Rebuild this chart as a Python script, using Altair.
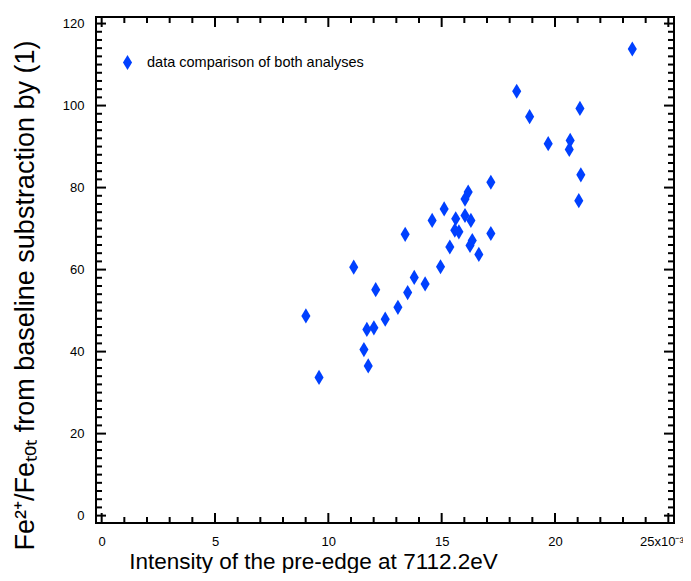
import altair as alt
import pandas as pd

# Intensity of the pre-edge (x10^-3) and Fe2+/Fetot (%)
intensity = [23.41, 18.31, 18.88, 21.10, 19.70, 20.67, 20.63, 21.14, 21.05, 17.17,
             16.17, 16.03, 15.11, 14.58, 15.62, 16.03, 16.29, 13.39, 15.58, 15.76,
             17.17, 15.36, 16.35, 16.25, 16.64, 11.12, 14.95, 13.79, 14.27, 12.09,
             13.50, 13.07, 12.51, 9.01, 11.70, 12.01, 11.57, 11.76, 9.59]
fe_ratio = [113.8, 103.5, 97.3, 99.3, 90.7, 91.5, 89.3, 83.1, 76.8, 81.3,
            78.9, 77.2, 74.8, 72.0, 72.4, 73.2, 72.0, 68.6, 69.6, 69.2,
            68.8, 65.5, 67.1, 65.9, 63.7, 60.6, 60.7, 58.1, 56.5, 55.1,
            54.4, 50.8, 47.9, 48.7, 45.4, 45.8, 40.5, 36.5, 33.7]
series_name = "data comparison of both analyses"

x_major = [0, 5, 10, 15, 20, 25]
x_minor = [v for v in range(0, 26) if v % 5 != 0]
y_major = [0, 20, 40, 60, 80, 100, 120]
y_minor = [v for v in range(0, 122, 2) if v % 20 != 0]

X_DOMAIN = [-0.25, 25.25]
Y_DOMAIN = [-1.8, 121.6]

df = pd.DataFrame({"x": intensity, "y": fe_ratio, "series": [series_name] * len(intensity)})

W, H = 578, 506
FONT = "Liberation Sans"
DIAMOND = "M0,-1L0.6,0L0,1L-0.6,0Z"
MAJ, MIN, TW = 10, 6, 2
TICK_COLOR = "black"

xs = alt.Scale(domain=X_DOMAIN, nice=False, zero=False)
ys = alt.Scale(domain=Y_DOMAIN, nice=False, zero=False)

points = alt.Chart(df).mark_point(shape=DIAMOND, size=230, filled=True, opacity=1).encode(
    x=alt.X("x:Q", scale=xs, axis=alt.Axis(
        orient="bottom", values=x_major, ticks=False, tickSize=0, domain=False,
        labelPadding=12, labelFontSize=13, labelFont=FONT, labelColor="black",
        labelFlush=False,
        labelOffset={"condition": {"test": "datum.value == 25", "value": -7}, "value": 0},
        labelExpr="datum.value == 25 ? '25x10⁻³' : datum.label",
        title="Intensity of the pre-edge at 7112.2eV", titleFont=FONT,
        titleFontSize=22.5, titleFontWeight="normal", titleColor="black",
        titleX=217, titleY=45, titleAlign="center", titleBaseline="alphabetic")),
    y=alt.Y("y:Q", scale=ys, axis=alt.Axis(
        orient="left", values=y_major, ticks=False, tickSize=0, domain=False,
        labelPadding=12, labelFontSize=13, labelFont=FONT, labelColor="black",
        labelFlush=False,
        title="Fe²⁺/Feₜₒₜ from baseline substraction by (1)", titleFont=FONT,
        titleFontSize=27, titleFontWeight="normal", titleColor="black",
        titleAngle=270, titleX=-63, titleY=278, titleAlign="center",
        titleBaseline="alphabetic")),
    color=alt.Color("series:N", scale=alt.Scale(range=["#0040ff"]), legend=alt.Legend(
        title=None, orient="none", legendX=23, legendY=37, padding=0,
        symbolType=DIAMOND, symbolSize=230, labelOffset=11, labelLimit=0,
        labelFont=FONT, labelFontSize=14.5, labelColor="black")),
)


def xticks(vals, y0, y1):
    d = pd.DataFrame({"v": vals})
    return alt.Chart(d).mark_rule(strokeWidth=TW, color=TICK_COLOR).encode(
        x=alt.X("v:Q", scale=xs), y=alt.value(y0), y2=alt.value(y1))


def yticks(vals, x0, x1):
    d = pd.DataFrame({"w": vals})
    return alt.Chart(d).mark_rule(strokeWidth=TW, color=TICK_COLOR).encode(
        y=alt.Y("w:Q", scale=ys), x=alt.value(x0), x2=alt.value(x1))


tick_layers = [
    xticks(x_major, H, H - MAJ), xticks(x_minor, H, H - MIN),
    xticks(x_major, 0, MAJ), xticks(x_minor, 0, MIN),
    yticks(y_major, 0, MAJ), yticks(y_minor, 0, MIN),
    yticks(y_major, W, W - MAJ), yticks(y_minor, W, W - MIN),
]

chart = alt.layer(points, *tick_layers).properties(
    width=W, height=H,
    autosize=alt.AutoSizeParams(type="none"),
    padding={"left": 88, "top": 9, "right": 9, "bottom": 50},
    background="white",
).configure_view(
    stroke="black", strokeWidth=2
).configure_axis(grid=False)

chart.save("out.html", embed_options={"renderer": "svg", "actions": False})
